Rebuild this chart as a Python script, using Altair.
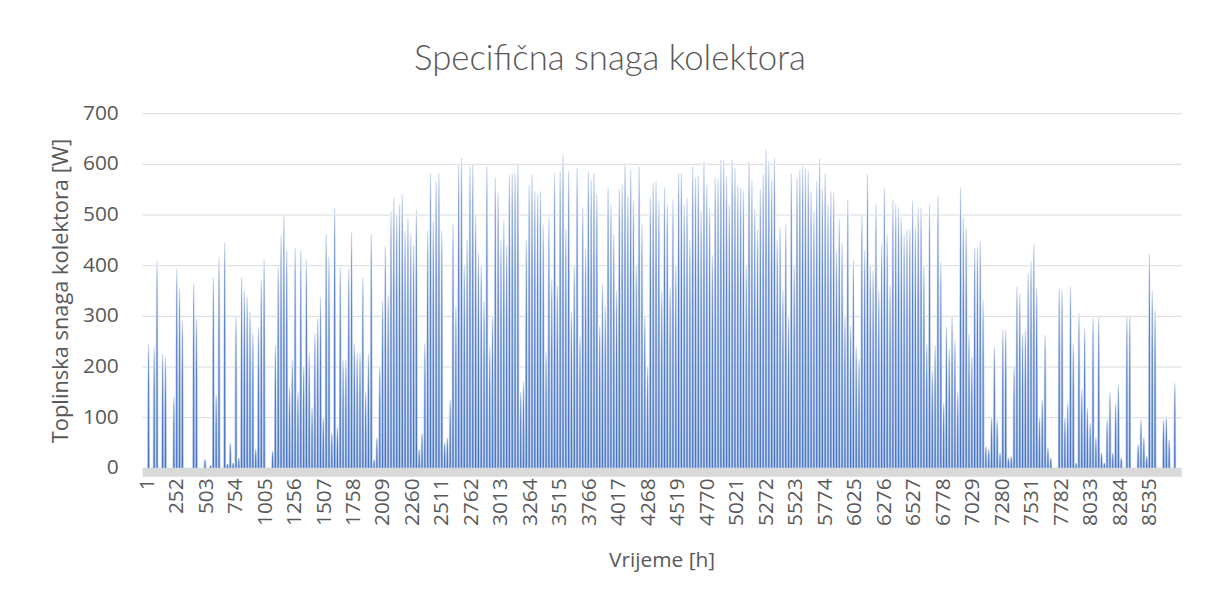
import altair as alt
import pandas as pd

# Daily peak of hourly collector power [W] (day 1..365)
daily_peak = [
    245, 0, 236, 409, 0, 225, 218, 0, 0, 140,
    393, 354, 291, 0, 0, 0, 363, 295, 0, 0,
    17, 0, 5, 376, 144, 416, 0, 445, 8, 50,
    10, 298, 20, 376, 350, 337, 308, 265, 37, 278,
    370, 412, 0, 0,
    33, 242, 396, 458, 500, 429, 160, 213, 435, 150,
    429, 200, 409, 226, 120, 265, 295, 337, 100, 461,
    416, 69, 514, 80, 396, 213, 213, 393, 465, 246,
    226, 226, 376, 150, 226, 461, 17, 60, 200, 330,
    437, 340, 507, 533, 500, 520, 540, 468,
    494, 461, 440, 510, 37, 69, 246, 468, 582, 488,
    565, 582, 468, 50, 60, 135, 481, 320, 599, 612,
    400, 450, 595, 599, 497, 425, 400, 330, 595, 240,
    300, 573, 543, 450, 488, 439, 579, 582, 582, 599,
    150, 170, 450, 559, 579, 546, 540,
    546, 480, 230, 494, 373, 582, 360, 586, 618, 471,
    586, 308, 400, 592, 260, 514, 432, 586, 569, 582,
    540, 280, 363, 320, 553, 520, 461, 350, 550, 559,
    602, 537, 589, 527, 400, 595, 480, 300, 200, 533,
    563, 566, 527, 350, 553, 520,
    357, 530, 400, 582, 582, 520, 533, 450, 595, 573,
    576, 507, 605, 559, 514, 420, 573, 570, 608, 608,
    575, 520, 608, 592, 559, 553, 546, 400, 605, 566,
    510, 470, 550, 579, 628, 605, 569, 612, 450, 475,
    350, 481, 300, 582, 400, 573,
    589, 595, 590, 586, 545, 507, 566, 610, 550, 582,
    520, 546, 543, 429, 491, 445, 300, 530, 280, 412,
    240, 216, 500, 429, 580, 400, 390, 520, 350, 442,
    553, 460, 360, 530, 520, 514, 494, 460, 470, 471,
    527, 475, 514, 514, 400, 245, 520, 190,
    242, 537, 406, 128, 278, 235, 300, 252, 150, 553,
    494, 475, 265, 220, 435, 435, 448, 331, 43, 37,
    100, 239, 95, 30, 272, 272, 20, 23, 200, 357,
    344, 265, 272, 383, 409, 442, 354, 100, 135, 262,
    40, 20, 0, 0, 354, 350, 100,
    128, 357, 245, 10, 305, 155, 275, 118, 89, 295,
    60, 298, 30, 10, 95, 148, 30, 128, 164, 20,
    0, 298, 298, 0, 0, 46, 95, 60, 23, 422,
    350, 311, 0, 0, 95, 102, 56, 0, 167,
]
days = list(range(1, len(daily_peak) + 1))
# Hour of the year at which each day's peak occurs (around midday)
peak_hour = [24 * (d - 1) + 13 for d in days]

x_tick_values = [1, 252, 503, 754, 1005, 1256, 1507, 1758, 2009, 2260, 2511, 2762,
                 3013, 3264, 3515, 3766, 4017, 4268, 4519, 4770, 5021, 5272, 5523,
                 5774, 6025, 6276, 6527, 6778, 7029, 7280, 7531, 7782, 8033, 8284, 8535]
y_tick_values = [0, 100, 200, 300, 400, 500, 600, 700]

chart_title = "Specifična snaga kolektora"
x_title = "Vrijeme [h]"
y_title = "Toplinska snaga kolektora [W]"

df = pd.DataFrame({"hour": peak_hour, "power": daily_peak})

TXT = "#595959"
GRID = "#d9d9d9"
W, H = 1046, 357
AX_FONT = "Open Sans"

core_grad = alt.Gradient(
    gradient="linear",
    stops=[
        alt.GradientStop(color="#d3def2", offset=0),
        alt.GradientStop(color="#8aa7db", offset=0.12),
        alt.GradientStop(color="#5a83cb", offset=0.35),
        alt.GradientStop(color="#4472C4", offset=1),
    ],
    x1=1, x2=1, y1=0, y2=1,
)
halo_grad = alt.Gradient(
    gradient="linear",
    stops=[
        alt.GradientStop(color="#ffffff", offset=0),
        alt.GradientStop(color="#eef2fa", offset=0.2),
        alt.GradientStop(color="#c4d3ee", offset=0.55),
        alt.GradientStop(color="#a9bfe6", offset=1),
    ],
    x1=1, x2=1, y1=0, y2=1,
)

x_enc = alt.X(
    "hour:Q",
    scale=alt.Scale(domain=[0.5, 8760.5], nice=False, zero=False),
    axis=alt.Axis(
        values=x_tick_values, format="d", labelAngle=-90, labelFontSize=21,
        labelFont=AX_FONT, labelColor=TXT,
        labelOverlap=False, labelFlush=False, labelPadding=6,
        domainColor=GRID, domainWidth=9, offset=4, ticks=False, grid=False,
        title=x_title, titleFont=AX_FONT, titleFontSize=21, titleFontWeight="normal",
        titleColor=TXT, titlePadding=24,
    ),
)
y_enc = alt.Y(
    "power:Q",
    scale=alt.Scale(domain=[0, 700], nice=False),
    axis=alt.Axis(
        values=y_tick_values, labelFontSize=21, labelFont=AX_FONT, labelColor=TXT,
        labelPadding=24, domain=False, ticks=False, grid=True, gridColor=GRID,
        gridWidth=1, title=y_title, titleFont=AX_FONT, titleFontSize=22,
        titleFontWeight="normal", titleColor=TXT, titlePadding=10,
    ),
)

halo = alt.Chart(df).mark_bar(size=2.7, color=halo_grad).encode(x=x_enc, y=y_enc)
core = alt.Chart(df).mark_bar(size=1.2, color=core_grad).encode(x=x_enc, y=y_enc)

one = pd.DataFrame({"t": [chart_title]})

title_mark = alt.Chart(one).mark_text(
    align="center", baseline="alphabetic", fontSize=35, font="Lato",
    fontWeight=300, color=TXT,
).encode(text="t:N", x=alt.value(471), y=alt.value(-44))

chart = alt.layer(halo, core, title_mark).properties(
    width=W,
    height=H,
    autosize="none",
    padding={"left": 135, "top": 104, "right": 19, "bottom": 115},
).configure(font="Lato").configure_view(stroke=None)

chart.save("out.html", embed_options={"renderer": "svg", "actions": False})
